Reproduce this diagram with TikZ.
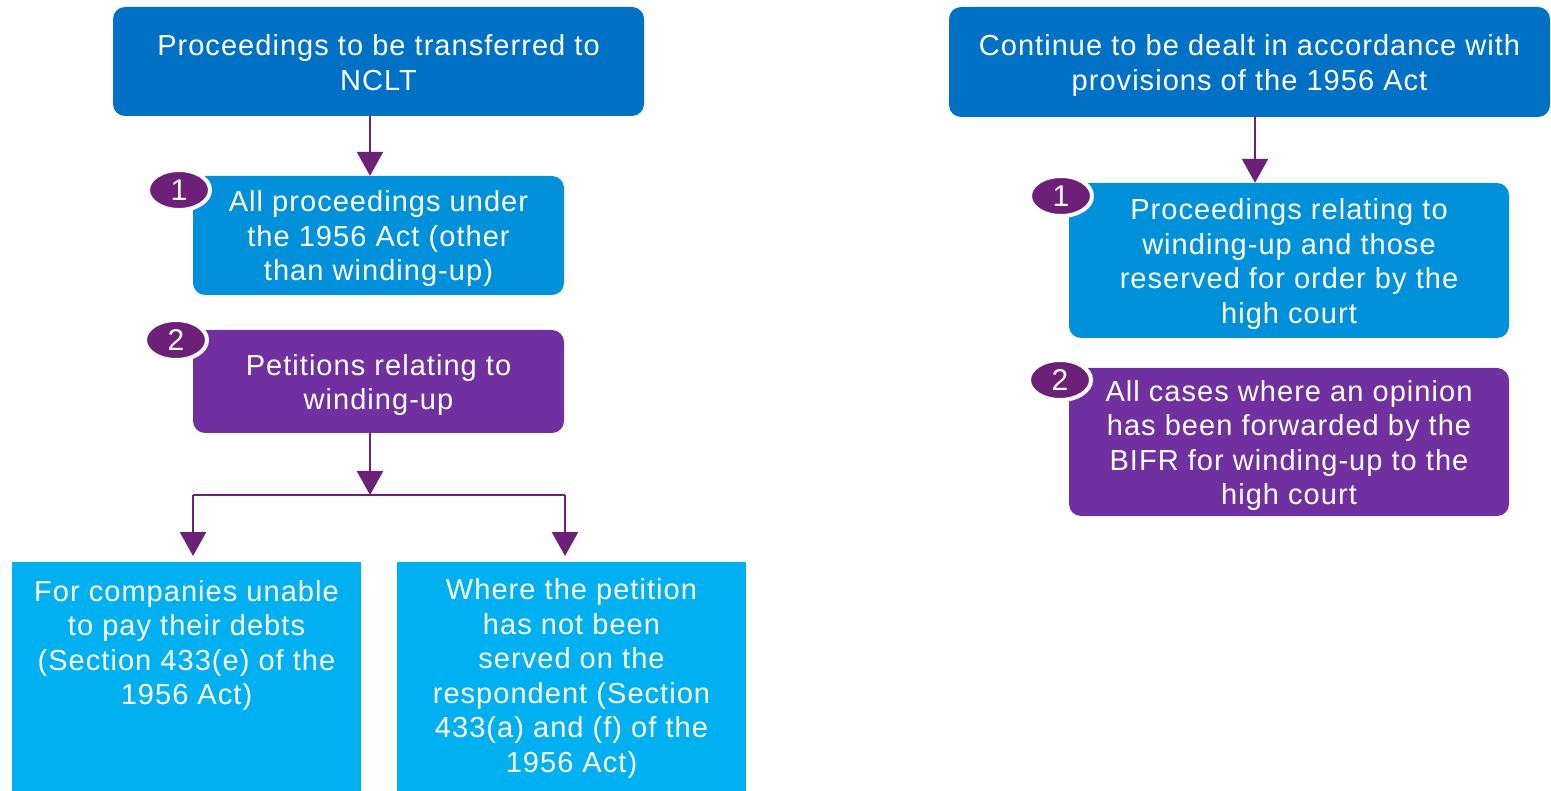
\documentclass[tikz,border=0pt]{standalone}
\usepackage{fontspec}
\setmainfont{Liberation Sans}[LetterSpace=3.6]
\usetikzlibrary{arrows.meta,shapes.geometric}
\definecolor{dkblue}{HTML}{0071C5}
\definecolor{mdblue}{HTML}{0091DA}
\definecolor{ltblue}{HTML}{00B0F0}
\definecolor{boxpurple}{HTML}{7030A0}
\definecolor{kpurple}{HTML}{6D2077}
\newcommand{\tsr}{\rule{0pt}{28pt}}
\begin{document}
\begin{tikzpicture}[x=1pt,y=-1pt,
  every node/.style={font=\fontsize{29}{34.5}\selectfont, text=white, align=center, inner sep=0pt},
  rbox/.style={rounded corners=12pt, minimum width=#1},
  sbox/.style={minimum width=349pt, minimum height=229pt, fill=ltblue},
  badge/.style={ellipse, fill=kpurple, draw=white, line width=4pt, minimum width=62pt, minimum height=40pt, font=\fontsize{30}{30}\selectfont},
  arr/.style={kpurple, line width=2.5pt, -{Triangle[width=26pt,length=24pt]}},
  conn/.style={kpurple, line width=2pt}
]
\useasboundingbox (0,0) rectangle (1551,791);

% left column
\node[rbox=531pt, minimum height=109pt, fill=dkblue] (A) at (378.5,61.5)
  {\rule{0pt}{23pt}Proceedings to be transferred to\\NCLT};
\node[rbox=371pt, minimum height=119pt, fill=mdblue] (B) at (378.5,235.5)
  {\tsr All proceedings under\\the 1956 Act (other\\than winding-up)};
\node[rbox=371pt, minimum height=103pt, fill=boxpurple] (C) at (378.5,381.5)
  {\tsr Petitions relating to\\winding-up};
\node[badge] (b1) at (179,190) {1};
\node[badge] (b2) at (176,340) {2};

\node[sbox] (D) at (186.5,676.5) {};
\node (Dt) at (186.5,645.5) {For companies unable\\to pay their debts\\(Section 433(e) of the\\1956 Act)};
\node[sbox] (E) at (571.5,676.5)
  {\rule{0pt}{25pt}Where the petition\\has not been\\served on the\\respondent (Section\\433(a) and (f) of the\\1956 Act)};

% right column
\node[rbox=601pt, minimum height=110pt, fill=dkblue] (F) at (1249.5,62)
  {\tsr Continue to be dealt in accordance with\\provisions of the 1956 Act};
\node[rbox=440pt, minimum height=155pt, fill=mdblue] (G) at (1289,260.5)
  {\tsr Proceedings relating to\\winding-up and those\\reserved for order by the\\high court};
\node[rbox=440pt, minimum height=148pt, fill=boxpurple] (H) at (1289,442)
  {\tsr All cases where an opinion\\has been forwarded by the\\BIFR for winding-up to the\\high court};
\node[badge] (b3) at (1061,196) {1};
\node[badge] (b4) at (1060,380) {2};

% connectors
\coordinate (j) at (370,495);
\coordinate (jl) at (193,495);
\coordinate (jr) at (565,495);
\coordinate (dl) at (193,556);
\coordinate (er) at (565,556);

\draw[arr] (370,0 |- A.south) -- (370,0 |- B.north);
\draw[arr] (370,0 |- C.south) -- (j);
\draw[conn] (jl) -- (jr);
\draw[arr] (jl) -- (dl);
\draw[arr] (jr) -- (er);
\draw[arr] (1255,0 |- F.south) -- (1255,0 |- G.north);
\end{tikzpicture}
\end{document}
